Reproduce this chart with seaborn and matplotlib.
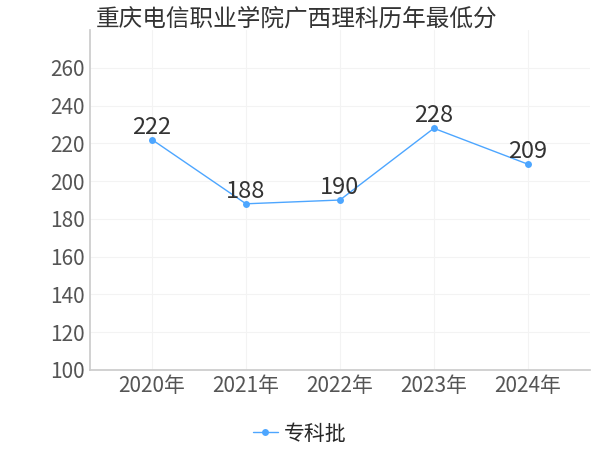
import matplotlib
matplotlib.use("Agg")
import matplotlib.pyplot as plt
import seaborn as sns
import pandas as pd

years = ["2020年", "2021年", "2022年", "2023年", "2024年"]
scores = [222, 188, 190, 228, 209]
series = "专科批"
title = "重庆电信职业学院广西理科历年最低分"

sns.set_theme(style="white")
plt.rcParams['font.family'] = ['Noto Sans CJK SC', 'DejaVu Sans']

df = pd.DataFrame({"year": years, "score": scores, "s": series})
fig = plt.figure(figsize=(6, 4.5), dpi=100)
ax = fig.add_axes([0.15, 0.178, 0.833, 0.755])
sns.lineplot(data=df, x="year", y="score", hue="s", palette=["#4da6ff"], marker="o",
             markersize=5, markeredgewidth=0, linewidth=1, ax=ax, sort=False)
for i, v in enumerate(scores):
    ax.text(i, v + 0.5, str(v), ha="center", va="bottom", fontsize=17, color="#333333")
ax.set_ylim(100, 280)
ax.set_yticks(range(100, 261, 20))
ax.set_xlim(-0.66, 4.66)
ax.set_xlabel(""); ax.set_ylabel("")
ax.tick_params(axis="both", labelsize=15, colors="#555555", length=0)
ax.grid(True, color="#f3f3f3", linewidth=0.8)
for s in ["top", "right"]:
    ax.spines[s].set_visible(False)
for s in ["left", "bottom"]:
    ax.spines[s].set_color("#cccccc")
fig.text(0.16, 0.958, title, fontsize=17, color="#333333", ha="left", va="center")
ax.legend(loc="upper center", bbox_to_anchor=(0.42, -0.1), frameon=False, fontsize=15,
          handlelength=1.2, handletextpad=0.3)
fig.savefig("out.png", dpi=100)
